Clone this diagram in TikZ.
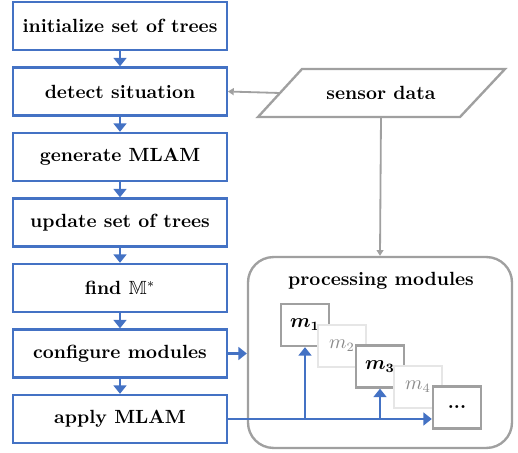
\documentclass[tikz,border=0pt]{standalone}
\usepackage{amsmath,amssymb,bm}
\usetikzlibrary{arrows.meta}
\definecolor{flowblue}{HTML}{4472C4}
\definecolor{linegray}{HTML}{A0A0A0}
\definecolor{palegray}{HTML}{E6E6E6}
\definecolor{textgray}{HTML}{8A8A8A}
\begin{document}
\begin{tikzpicture}[x=0.55pt,y=-0.55pt,
  every node/.style={font=\fontsize{10.5}{12.6}\selectfont\bfseries},
  stepbox/.style={draw=flowblue, line width=1.3pt, minimum width=117.4pt,
    minimum height=26.4pt, fill=white, inner sep=0pt},
  flow/.style={flowblue, line width=1.3pt, -{Triangle[width=7pt,length=4.6pt]}},
  feed/.style={linegray, line width=1pt, -{Triangle[width=3.8pt,length=3.2pt]}},
  module/.style={draw=linegray, line width=1.3pt, fill=white,
    minimum width=26.4pt, minimum height=23.1pt, inner sep=0pt},
  idle/.style={module, draw=palegray, text=textgray}]
  \useasboundingbox (0,0) rectangle (518,453);

  % main work flow
  \node[stepbox] (init)   at (120,26)    {initialize set of trees};
  \node[stepbox] (detect) at (120,91.5)  {detect situation};
  \node[stepbox] (gen)    at (120,157)   {generate MLAM};
  \node[stepbox] (update) at (120,222.5) {update set of trees};
  \node[stepbox] (find)   at (120,288)   {find $\mathbb{M}^*$};
  \node[stepbox] (config) at (120,353.5) {configure modules};
  \node[stepbox] (apply)  at (120,419)   {apply MLAM};
  \foreach \a/\b in {init/detect, detect/gen, gen/update, update/find,
                     find/config, config/apply}
    \draw[flow] (\a) -- (\b);

  % sensor input
  \draw[linegray, line width=1.3pt, fill=white]
    (302,69) -- (505,69) -- (460,117) -- (258,117) -- cycle;
  \node (sensor) at (381,93) {sensor data};
  \coordinate (sensorL) at (280,93);
  \coordinate (sensorB) at (381,117);
  \draw[feed] (sensorL) -- (detect.east);

  % processing modules
  \node[draw=linegray, line width=1.3pt, rounded corners=14pt,
        minimum width=145.2pt, minimum height=105pt, inner sep=0pt]
        (proc) at (380,352.5) {};
  \node (proctitle) at (381,281) {processing modules};
  \draw[feed] (sensorB) -- (proc.north);
  \draw[flow] (config.east) -- (config.east -| proc.west);

  \node[module] (m1) at (305,325)   {$\boldsymbol{m_1}$};
  \node[idle]   (m2) at (342,346)   {$m_2$};
  \node[module] (m3) at (380,366.5) {$\boldsymbol{m_3}$};
  \node[idle]   (m4) at (418,387)   {$m_4$};
  \node[module] (more) at (457,407.5) {...};

  \coordinate (j1) at (m1.south |- apply.east);
  \coordinate (j3) at (m3.south |- apply.east);
  \draw[flow] (apply.east) -- (apply.east -| more.west);
  \draw[flow] (j1) -- (m1.south);
  \draw[flow] (j3) -- (m3.south);
\end{tikzpicture}
\end{document}
